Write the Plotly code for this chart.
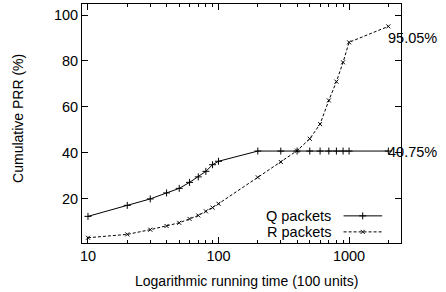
import plotly.graph_objects as go

x_vals = [10, 20, 30, 40, 50, 60, 70, 80, 90, 100, 200, 300, 400, 500, 600, 700, 800, 900, 1000, 2000]
q_packets = [12.3, 17.1, 19.9, 22.5, 24.5, 27.1, 29.5, 31.9, 34.8, 36.3,
             40.75, 40.75, 40.75, 40.75, 40.75, 40.75, 40.75, 40.75, 40.75, 40.75]
r_packets = [3.0, 4.45, 6.5, 8.1, 9.5, 11.2, 12.7, 14.5, 16.1, 17.8,
             29.3, 36.0, 40.9, 46.1, 52.5, 62.8, 71.0, 79.4, 88.1, 95.05]
series_names = ["Q packets", "R packets"]
end_labels = ["95.05%", "40.75%"]
x_major_ticks = [10, 100, 1000]
x_minor_ticks = [20, 30, 40, 50, 60, 70, 80, 90, 200, 300, 400, 500, 600, 700, 800, 900, 2000]
y_ticks = [20, 40, 60, 80, 100]
x_title = "Logarithmic running time (100 units)"
y_title = "Cumulative PRR (%)"

FONT = "Liberation Sans, Arial, sans-serif"
TICK_SIZE = 14.5
TITLE_SIZE = 14

fig = go.Figure()
fig.add_trace(go.Scatter(
    x=x_vals, y=q_packets, mode="lines+markers", name=series_names[0],
    line=dict(color="black", width=1),
    marker=dict(symbol="cross-thin", size=5, line=dict(color="black", width=1)),
    showlegend=False))
fig.add_trace(go.Scatter(
    x=x_vals, y=r_packets, mode="lines+markers", name=series_names[1],
    line=dict(color="black", width=1, dash="3px,2px"),
    marker=dict(symbol="x-thin", size=4, line=dict(color="black", width=1)),
    showlegend=False))

# gnuplot-style key (text left of sample) drawn on an overlay axis in [0,1]
legend_y = [0.1135, 0.0465]
for i, dash in enumerate(["solid", "3px,2px"]):
    fig.add_trace(go.Scatter(
        x=[0.820, 0.941], y=[legend_y[i], legend_y[i]], xaxis="x2", yaxis="y2",
        mode="lines", line=dict(color="black", width=1, dash=dash),
        showlegend=False, hoverinfo="skip"))
    fig.add_trace(go.Scatter(
        x=[0.880], y=[legend_y[i]], xaxis="x2", yaxis="y2", mode="markers",
        marker=dict(symbol=["cross-thin", "x-thin"][i], size=[5, 4][i],
                    line=dict(color="black", width=1)),
        showlegend=False, hoverinfo="skip"))
    fig.add_annotation(xref="x2", yref="y2", x=0.786, y=legend_y[i],
                       text=series_names[i], showarrow=False,
                       xanchor="right", yanchor="middle",
                       font=dict(family=FONT, size=TICK_SIZE, color="black"))

fig.add_annotation(x=3.30103, y=90, text=end_labels[0], showarrow=False,
                   xanchor="left", yanchor="middle", xshift=-2,
                   font=dict(family=FONT, size=TICK_SIZE, color="black"))
fig.add_annotation(x=3.30103, y=40.2, text=end_labels[1], showarrow=False,
                   xanchor="left", yanchor="middle", xshift=-2,
                   font=dict(family=FONT, size=TICK_SIZE, color="black"))

# axis titles
fig.add_annotation(xref="paper", yref="paper", x=0.515, y=-0.16,
                   text=x_title, showarrow=False, xanchor="center", yanchor="middle",
                   font=dict(family=FONT, size=TITLE_SIZE, color="black"))
fig.add_annotation(xref="paper", yref="paper", x=-0.2, y=0.52,
                   text=y_title, showarrow=False, textangle=-90,
                   xanchor="center", yanchor="middle",
                   font=dict(family=FONT, size=TITLE_SIZE, color="black"))

fig.update_layout(
    width=446, height=292,
    margin=dict(l=82, r=45, t=4, b=49, autoexpand=False),
    plot_bgcolor="white", paper_bgcolor="white",
    font=dict(family=FONT, size=TICK_SIZE, color="black"),
    xaxis=dict(
        type="log", range=[0.9542, 3.398], automargin=False,
        tickvals=x_major_ticks, ticktext=[str(v) for v in x_major_ticks],
        ticks="inside", ticklen=6, tickcolor="black", tickwidth=1,
        minor=dict(tickvals=x_minor_ticks, ticks="inside", ticklen=3,
                   tickcolor="black", tickwidth=1, showgrid=False),
        showline=True, linecolor="black", linewidth=1, mirror="allticks",
        showgrid=False, zeroline=False,
        tickfont=dict(family=FONT, size=TICK_SIZE),
    ),
    yaxis=dict(
        range=[0.7, 104.8], tickvals=y_ticks, automargin=False,
        ticks="inside", ticklen=6, tickcolor="black", tickwidth=1,
        showline=True, linecolor="black", linewidth=1, mirror="allticks",
        showgrid=False, zeroline=False,
        tickfont=dict(family=FONT, size=TICK_SIZE),
    ),
    xaxis2=dict(overlaying="x", range=[0, 1], visible=False, anchor="y2"),
    yaxis2=dict(overlaying="y", range=[0, 1], visible=False, anchor="x2"),
)

fig.write_html("out.html",
               config={"displayModeBar": False},
               post_script="document.body.style.margin='0';document.body.style.overflow='hidden';")
